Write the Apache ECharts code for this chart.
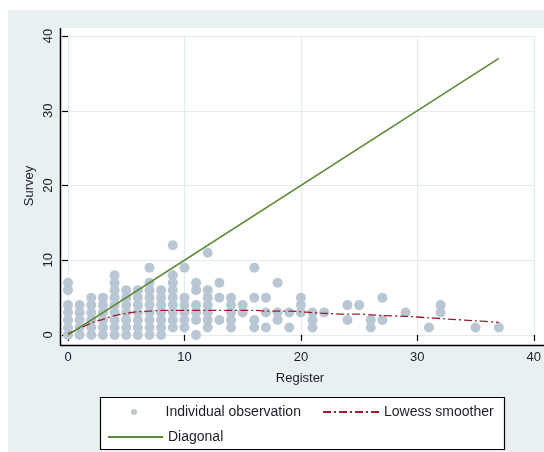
<!DOCTYPE html>
<html>
<head>
<meta charset="utf-8">
<script src="https://cdn.jsdelivr.net/npm/echarts@6/dist/echarts.min.js"></script>
<style>
  html, body { margin: 0; padding: 0; background: #fff; }
  #chart { width: 544px; height: 452px; }
</style>
</head>
<body>
<div id="chart"></div>
<script>
// Register value of each column of observations, and the survey values seen at it
const registerColumns = [0, 1, 2, 3, 4, 5, 6, 7, 8, 9, 10, 11, 12, 13, 14, 15, 16, 17, 18, 19, 20, 21, 22, 24, 25, 26, 27, 29, 31, 32, 35, 37];
const surveyByColumn = [
  [0, 1, 2, 3, 4, 6, 7],
  [0, 1, 2, 3, 4],
  [0, 1, 2, 3, 4, 5],
  [0, 1, 2, 3, 4, 5],
  [0, 1, 2, 3, 4, 5, 6, 7, 8],
  [0, 1, 2, 3, 4, 5, 6],
  [0, 1, 2, 3, 4, 5, 6],
  [0, 1, 2, 3, 4, 5, 6, 7, 9],
  [0, 1, 2, 3, 4, 5, 6],
  [1, 2, 3, 4, 5, 6, 7, 8, 12],
  [1, 2, 3, 4, 5, 9],
  [0, 2, 3, 4, 6, 7],
  [1, 2, 3, 4, 5, 6, 11],
  [2, 5, 7],
  [1, 2, 3, 4, 5],
  [3, 4],
  [1, 2, 5, 9],
  [1, 3, 5],
  [2, 3, 7],
  [1, 3],
  [3, 4, 5],
  [1, 2, 3],
  [3],
  [2, 4],
  [4],
  [1, 2],
  [2, 5],
  [3],
  [1],
  [3, 4],
  [1],
  [1]
];

// Lowess smoother of survey on register
const lowessX = [0, 1, 2, 3, 4, 5, 6, 7, 8, 9, 10, 11, 12, 13, 14, 15, 16, 17, 18, 19, 20, 21, 22, 24, 25, 26, 27, 29, 31, 32, 35, 37];
const lowessY = [0.2, 0.9, 1.6, 2.1, 2.6, 2.9, 3.1, 3.2, 3.3, 3.3, 3.3, 3.3, 3.3, 3.3, 3.3, 3.3, 3.3, 3.2, 3.2, 3.2, 3.1, 3.0, 2.9, 2.8, 2.8, 2.7, 2.6, 2.5, 2.3, 2.2, 1.9, 1.7];

// Line of equality
const diagonalX = [0, 37];

// Axis ticks
const axisTicks = [0, 10, 20, 30, 40];

const observations = [];
registerColumns.forEach((r, i) => {
  surveyByColumn[i].forEach(s => observations.push([r, s]));
});
const lowess = lowessX.map((x, i) => [x, lowessY[i]]);
const diagonal = diagonalX.map(x => [x, x]);

const FONT = 'Liberation Sans, Arial, sans-serif';
const TEXT = '#1c1c2c';

const chart = echarts.init(document.getElementById('chart'), null, { renderer: 'canvas' });

chart.setOption({
  backgroundColor: '#ffffff',
  animation: false,
  textStyle: { fontFamily: FONT },
  grid: { left: 68, right: 9, top: 36, bottom: 117, containLabel: false },
  graphic: [
    // outer graph region
    { type: 'rect', z: -100, silent: true, shape: { x: 8, y: 10, width: 536, height: 442 }, style: { fill: '#e8f0f2' } },
    // plot region
    { type: 'rect', z: -99, silent: true, shape: { x: 60, y: 28, width: 484, height: 317 }, style: { fill: '#ffffff' } },
    // axis lines
    { type: 'line', z: 50, silent: true, shape: { x1: 60.5, y1: 28, x2: 60.5, y2: 345.5 }, style: { stroke: '#000', lineWidth: 1.5 } },
    { type: 'line', z: 50, silent: true, shape: { x1: 60, y1: 345.5, x2: 544, y2: 345.5 }, style: { stroke: '#000', lineWidth: 1.5 } },
    // legend frame
    { type: 'rect', z: -1, silent: true, shape: { x: 100.5, y: 397.5, width: 404, height: 52 }, style: { fill: '#ffffff', stroke: '#000', lineWidth: 1.2 } },
    // axis titles
    { type: 'text', z: 50, silent: true, x: 300, y: 378, style: { text: 'Register', font: '13px ' + FONT, fill: TEXT, align: 'center', verticalAlign: 'middle' } },
    { type: 'text', z: 50, silent: true, x: 29, y: 186, rotation: Math.PI / 2, style: { text: 'Survey', font: '13px ' + FONT, fill: TEXT, align: 'center', verticalAlign: 'middle' } }
  ],
  xAxis: {
    type: 'value', min: 0, max: 40, interval: 10,
    offset: 10,
    axisLine: { show: false },
    axisTick: { show: true, length: 6, lineStyle: { color: '#000', width: 1.2 }, customValues: axisTicks },
    axisLabel: { fontSize: 13, color: TEXT, margin: 6, fontFamily: FONT, customValues: axisTicks },
    splitLine: { show: true, lineStyle: { color: '#e2ecef', width: 1.2 } }
  },
  yAxis: {
    type: 'value', min: 0, max: 40, interval: 10,
    offset: 8,
    axisLine: { show: false },
    axisTick: { show: true, length: 6, lineStyle: { color: '#000', width: 1.2 }, customValues: axisTicks },
    axisLabel: { fontSize: 13, color: TEXT, margin: 5, rotate: 90, fontFamily: FONT, customValues: axisTicks },
    splitLine: { show: true, lineStyle: { color: '#e2ecef', width: 1.2 } }
  },
  legend: [
    {
      data: ['Individual observation'], left: 131, top: 405, padding: 0,
      icon: 'circle', itemWidth: 53, itemHeight: 6,
      textStyle: { fontSize: 14, color: TEXT, fontFamily: FONT }
    },
    {
      data: ['Lowess smoother'], left: 322, top: 405, padding: 0,
      itemWidth: 56, itemHeight: 12,
      itemStyle: { opacity: 0 },
      textStyle: { fontSize: 14, color: TEXT, fontFamily: FONT }
    },
    {
      data: ['Diagonal'], left: 107, top: 430, padding: 0,
      itemWidth: 55, itemHeight: 12,
      itemStyle: { opacity: 0 },
      textStyle: { fontSize: 14, color: TEXT, fontFamily: FONT }
    }
  ],
  series: [
    {
      name: 'Individual observation', type: 'scatter',
      data: observations, symbolSize: 10,
      itemStyle: { color: '#b9c7d5', opacity: 1 },
      z: 2
    },
    {
      name: 'Lowess smoother', type: 'line',
      data: lowess, showSymbol: false, symbol: 'none', smooth: 0.3,
      lineStyle: { color: '#9e1b2c', width: 1.3, type: [8, 3, 2, 3] },
      itemStyle: { color: '#9e1b2c' },
      z: 4
    },
    {
      name: 'Diagonal', type: 'line',
      data: diagonal, showSymbol: false, symbol: 'none',
      lineStyle: { color: '#5f8b37', width: 1.6 },
      itemStyle: { color: '#5f8b37' },
      z: 5
    }
  ]
});
</script>
</body>
</html>
